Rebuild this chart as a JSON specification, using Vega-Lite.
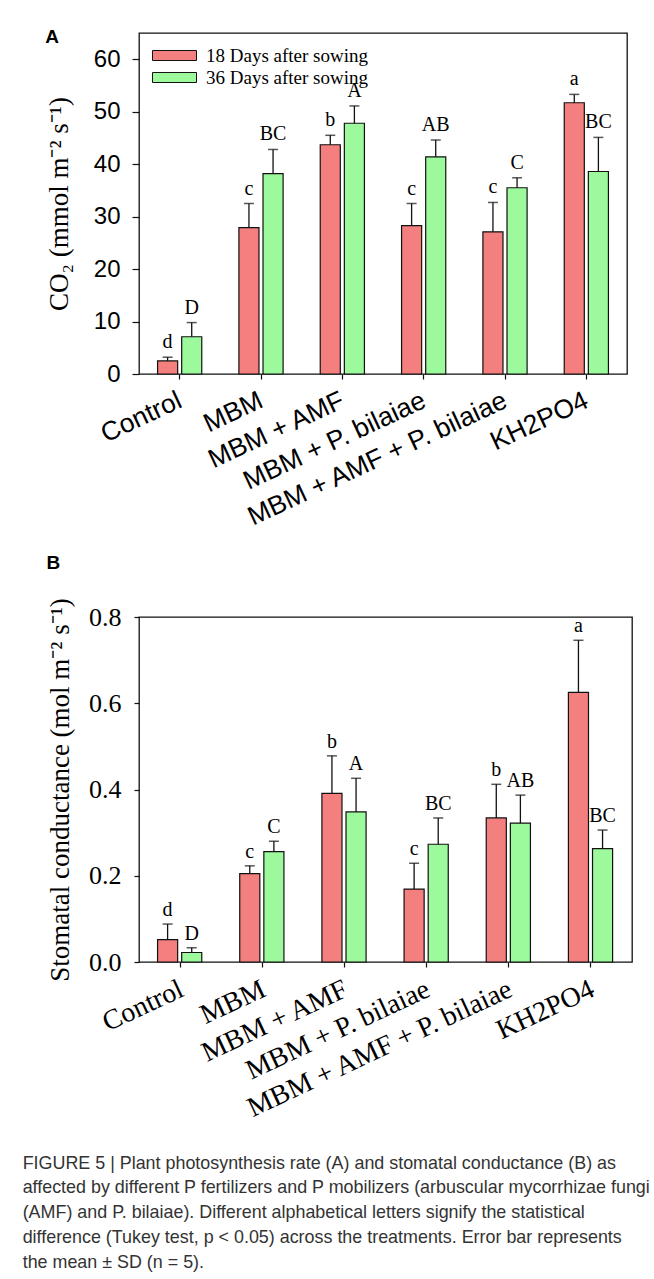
{
  "$schema": "https://vega.github.io/schema/vega-lite/v6.json",
  "background": "white",
  "padding": {"left": 22, "top": 27, "right": 0, "bottom": 0},
  "spacing": 21,
  "datasets": {
    "co2": [
      {"treatment": "Control", "stage": "18 Days after sowing", "mean": 2.5, "upper": 3.2, "letter": "d"},
      {"treatment": "Control", "stage": "36 Days after sowing", "mean": 7.1, "upper": 9.8, "letter": "D"},
      {"treatment": "MBM", "stage": "18 Days after sowing", "mean": 27.9, "upper": 32.5, "letter": "c"},
      {"treatment": "MBM", "stage": "36 Days after sowing", "mean": 38.2, "upper": 42.8, "letter": "BC"},
      {"treatment": "MBM + AMF", "stage": "18 Days after sowing", "mean": 43.7, "upper": 45.5, "letter": "b"},
      {"treatment": "MBM + AMF", "stage": "36 Days after sowing", "mean": 47.8, "upper": 51.1, "letter": "A"},
      {"treatment": "MBM + P. bilaiae", "stage": "18 Days after sowing", "mean": 28.3, "upper": 32.5, "letter": "c"},
      {"treatment": "MBM + P. bilaiae", "stage": "36 Days after sowing", "mean": 41.4, "upper": 44.6, "letter": "AB"},
      {"treatment": "MBM + AMF + P. bilaiae", "stage": "18 Days after sowing", "mean": 27.1, "upper": 32.7, "letter": "c"},
      {"treatment": "MBM + AMF + P. bilaiae", "stage": "36 Days after sowing", "mean": 35.5, "upper": 37.4, "letter": "C"},
      {"treatment": "KH2PO4", "stage": "18 Days after sowing", "mean": 51.7, "upper": 53.3, "letter": "a"},
      {"treatment": "KH2PO4", "stage": "36 Days after sowing", "mean": 38.6, "upper": 45.1, "letter": "BC"}
    ],
    "gs": [
      {"treatment": "Control", "stage": "18 Days after sowing", "mean": 0.052, "upper": 0.088, "letter": "d"},
      {"treatment": "Control", "stage": "36 Days after sowing", "mean": 0.022, "upper": 0.033, "letter": "D"},
      {"treatment": "MBM", "stage": "18 Days after sowing", "mean": 0.205, "upper": 0.223, "letter": "c"},
      {"treatment": "MBM", "stage": "36 Days after sowing", "mean": 0.256, "upper": 0.280, "letter": "C"},
      {"treatment": "MBM + AMF", "stage": "18 Days after sowing", "mean": 0.391, "upper": 0.478, "letter": "b"},
      {"treatment": "MBM + AMF", "stage": "36 Days after sowing", "mean": 0.348, "upper": 0.426, "letter": "A"},
      {"treatment": "MBM + P. bilaiae", "stage": "18 Days after sowing", "mean": 0.169, "upper": 0.229, "letter": "c"},
      {"treatment": "MBM + P. bilaiae", "stage": "36 Days after sowing", "mean": 0.273, "upper": 0.334, "letter": "BC"},
      {"treatment": "MBM + AMF + P. bilaiae", "stage": "18 Days after sowing", "mean": 0.334, "upper": 0.412, "letter": "b"},
      {"treatment": "MBM + AMF + P. bilaiae", "stage": "36 Days after sowing", "mean": 0.322, "upper": 0.387, "letter": "AB"},
      {"treatment": "KH2PO4", "stage": "18 Days after sowing", "mean": 0.625, "upper": 0.746, "letter": "a"},
      {"treatment": "KH2PO4", "stage": "36 Days after sowing", "mean": 0.263, "upper": 0.306, "letter": "BC"}
    ]
  },
  "vconcat": [
    {
      "width": 488,
      "height": 341,
      "data": {"name": "co2"},
      "title": {"text": "A", "anchor": "start", "frame": "bounds", "font": "Liberation Sans", "fontSize": 19, "fontWeight": "bold", "color": "black", "offset": 0, "baseline": "alphabetic", "dy": 29},
      "encoding": {
        "x": {
          "field": "treatment", "type": "nominal", "sort": null,
          "scale": {"paddingInner": 0, "paddingOuter": 0},
          "axis": {"title": null, "labelAngle": -25, "labelAlign": "right", "labelBaseline": "top", "labelFont": "Liberation Sans", "labelFontSize": 26.5, "labelPadding": 8, "labelOffset": -5, "labelLimit": 0, "tickSize": 5}
        },
        "xOffset": {"field": "stage", "type": "nominal", "scale": {"paddingInner": 0.167, "paddingOuter": 0.77}}
      },
      "layer": [
        {
          "mark": {"type": "bar", "stroke": "#111", "strokeWidth": 1.2},
          "encoding": {
            "y": {
              "field": "mean", "type": "quantitative",
              "scale": {"domain": [0, 65], "nice": false},
              "axis": {"values": [0, 10, 20, 30, 40, 50, 60], "title": "CO₂ (mmol m⁻² s⁻¹)", "titleFont": "Liberation Serif", "titleFontSize": 27, "titleFontWeight": "normal", "titlePadding": 20, "labelFont": "Liberation Sans", "labelFontSize": 24, "labelPadding": 12, "tickSize": 7}
            },
            "fill": {
              "field": "stage", "type": "nominal",
              "scale": {"range": ["#f47f7f", "#9cf99c"]},
              "legend": {"title": null, "orient": "none", "legendX": 23.5, "legendY": 10.5, "symbolType": "M-1.913,-0.435H1.913V0.435H-1.913Z", "symbolSize": 529, "symbolStrokeColor": "#111", "symbolStrokeWidth": 1, "labelFont": "Liberation Serif", "labelFontSize": 19, "labelColor": "black", "labelOffset": 19.5, "labelLimit": 0, "padding": 0, "rowPadding": 0}
            }
          }
        },
        {
          "mark": {"type": "rule", "color": "#111", "strokeWidth": 1.3},
          "encoding": {"y": {"field": "mean", "type": "quantitative"}, "y2": {"field": "upper"}}
        },
        {
          "mark": {"type": "tick", "color": "#111", "size": 10, "thickness": 1.5},
          "encoding": {"y": {"field": "upper", "type": "quantitative"}}
        },
        {
          "mark": {"type": "text", "font": "Liberation Serif", "fontSize": 20, "color": "black", "baseline": "alphabetic", "dy": -9},
          "encoding": {"y": {"field": "upper", "type": "quantitative"}, "text": {"field": "letter"}}
        }
      ]
    },
    {
      "width": 493,
      "height": 345,
      "data": {"name": "gs"},
      "title": {"text": "B", "anchor": "start", "frame": "bounds", "font": "Liberation Sans", "fontSize": 19, "fontWeight": "bold", "color": "black", "offset": 10, "baseline": "alphabetic"},
      "encoding": {
        "x": {
          "field": "treatment", "type": "nominal", "sort": null,
          "scale": {"paddingInner": 0, "paddingOuter": 0},
          "axis": {"title": null, "labelAngle": -25, "labelAlign": "right", "labelBaseline": "top", "labelFont": "Liberation Serif", "labelFontSize": 28, "labelPadding": 8, "labelOffset": -4, "labelLimit": 0, "tickSize": 5}
        },
        "xOffset": {"field": "stage", "type": "nominal", "scale": {"paddingInner": 0.167, "paddingOuter": 0.77}}
      },
      "layer": [
        {
          "mark": {"type": "bar", "stroke": "#111", "strokeWidth": 1.2},
          "encoding": {
            "y": {
              "field": "mean", "type": "quantitative",
              "scale": {"domain": [0, 0.8], "nice": false},
              "axis": {"values": [0, 0.2, 0.4, 0.6, 0.8], "format": ".1f", "title": "Stomatal conductance (mol m⁻² s⁻¹)", "titleFont": "Liberation Serif", "titleFontSize": 27, "titleFontWeight": "normal", "titlePadding": 14, "labelFont": "Liberation Serif", "labelFontSize": 26, "labelPadding": 13, "tickSize": 5}
            },
            "fill": {
              "field": "stage", "type": "nominal",
              "scale": {"range": ["#f47f7f", "#9cf99c"]},
              "legend": {"title": null, "orient": "none", "legendX": 23.5, "legendY": 17.5, "symbolType": "M-1.913,-0.435H1.913V0.435H-1.913Z", "symbolSize": 529, "symbolStrokeColor": "#111", "symbolStrokeWidth": 1, "labelFont": "Liberation Serif", "labelFontSize": 19, "labelColor": "black", "labelOffset": 19.5, "labelLimit": 0, "padding": 0, "rowPadding": 2}
            }
          }
        },
        {
          "mark": {"type": "rule", "color": "#111", "strokeWidth": 1.3},
          "encoding": {"y": {"field": "mean", "type": "quantitative"}, "y2": {"field": "upper"}}
        },
        {
          "mark": {"type": "tick", "color": "#111", "size": 10, "thickness": 1.5},
          "encoding": {"y": {"field": "upper", "type": "quantitative"}}
        },
        {
          "mark": {"type": "text", "font": "Liberation Serif", "fontSize": 20, "color": "black", "baseline": "alphabetic", "dy": -8},
          "encoding": {"y": {"field": "upper", "type": "quantitative"}, "text": {"field": "letter"}}
        }
      ]
    }
  ],
  "title": {
    "text": [
      "FIGURE 5 | Plant photosynthesis rate (A) and stomatal conductance (B) as",
      "affected by different P fertilizers and P mobilizers (arbuscular mycorrhizae fungi",
      "(AMF) and P. bilaiae). Different alphabetical letters signify the statistical",
      "difference (Tukey test, p < 0.05) across the treatments. Error bar represents",
      "the mean ± SD (n = 5)."
    ],
    "orient": "bottom", "anchor": "start", "frame": "bounds",
    "font": "Liberation Sans", "fontSize": 17.9, "fontWeight": "normal", "color": "#333",
    "lineHeight": 24.8, "baseline": "top", "offset": 31, "dx": -22
  },
  "config": {
    "view": {"stroke": "#111", "strokeWidth": 1.3},
    "axis": {"grid": false, "domain": false, "tickColor": "#111", "tickWidth": 1.2, "labelColor": "black", "titleColor": "black"}
  }
}
